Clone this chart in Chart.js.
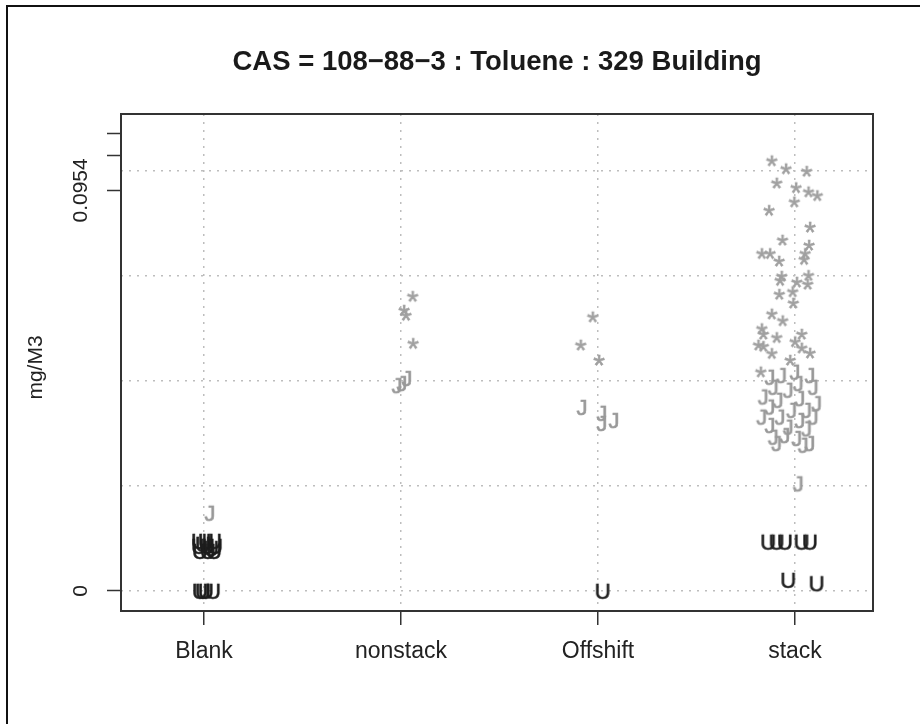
<!DOCTYPE html>
<html><head><meta charset="utf-8">
<script src="https://cdn.jsdelivr.net/npm/chart.js@4.4.0/dist/chart.umd.min.js"></script>
<style>html,body{margin:0;padding:0;background:#fff}canvas{display:block}</style>
</head><body>
<canvas id="c" width="920" height="724"></canvas>
<script>
const chartTitle = 'CAS = 108\u221288\u22123 : Toluene : 329 Building';
const yAxisTitle = 'mg/M3';
const categories = ['Blank', 'nonstack', 'Offshift', 'stack'];
const categoryPositions = [1, 2, 3, 4];
const yTickValues = [0, 0.0954, 0.1038, 0.109];
const yTickLabels = ['0', '0.0954', '', ''];
const yGridValues = [0, 0.025, 0.05, 0.075, 0.1];

// '*' markers (grey)
const starX = [2.059, 2.015, 2.025, 2.061,
  2.973, 2.912, 3.005,
  3.882, 3.954, 4.059, 3.907, 4.005, 4.068, 4.113, 3.996, 3.868, 4.076,
  3.936, 4.071, 3.831, 3.873, 4.051, 4.046, 3.919, 4.068, 3.932, 3.924,
  4.009, 4.064, 3.920, 3.988, 3.991, 3.882, 3.937, 3.831, 3.839, 3.907,
  4.034, 3.814, 3.839, 3.882, 4.000, 4.076, 3.975, 3.826, 4.034];
const starY = [0.0702, 0.0669, 0.0657, 0.0590,
  0.0653, 0.0586, 0.0550,
  0.1025, 0.1006, 0.1000, 0.0972, 0.0961, 0.0951, 0.0942, 0.0927, 0.0907, 0.0867,
  0.0836, 0.0824, 0.0804, 0.0804, 0.0804, 0.0790, 0.0786, 0.0752, 0.0750, 0.0740,
  0.0736, 0.0731, 0.0707, 0.0713, 0.0686, 0.0660, 0.0644, 0.0625, 0.0612, 0.0604,
  0.0612, 0.0586, 0.0583, 0.0566, 0.0594, 0.0567, 0.0550, 0.0522, 0.0579];

// 'J' markers (grey)
const jX = [1.030,
  1.980, 2.005, 2.030,
  2.919, 3.020, 3.020, 3.081,
  3.873, 3.932, 4.000, 4.076, 4.017, 3.890, 3.966, 4.093, 3.839, 3.915,
  4.025, 4.110, 3.873, 3.983, 4.059, 3.831, 3.924, 4.025, 4.093, 3.873,
  3.966, 4.059, 3.890, 3.949, 4.009, 4.076, 4.042, 3.907, 4.017];
const jY = [0.0186,
  0.0490, 0.0495, 0.0507,
  0.0438, 0.0424, 0.0400, 0.0407,
  0.0510, 0.0514, 0.0522, 0.0514, 0.0495, 0.0486, 0.0479, 0.0486, 0.0463, 0.0455,
  0.0459, 0.0447, 0.0439, 0.0431, 0.0431, 0.0415, 0.0415, 0.0407, 0.0415, 0.0395,
  0.0391, 0.0387, 0.0367, 0.0371, 0.0364, 0.0352, 0.0348, 0.0352, 0.0256];

// 'U' markers (black)
const uX = [0.975, 1.010, 1.051, 0.975, 1.015, 1.056, 0.980, 1.020, 1.051, 0.995, 1.036,
  0.980, 1.010, 1.046, 0.995,
  3.024,
  3.864, 3.907, 3.949, 4.034, 4.076, 3.966, 4.110];
const uY = [0.0119, 0.0119, 0.0119, 0.0107, 0.0107, 0.0107, 0.0095, 0.0095, 0.0095, 0.0112, 0.0102,
  0, 0, 0, 0,
  0,
  0.0117, 0.0117, 0.0117, 0.0117, 0.0117, 0.0026, 0.0018];

const FONT = '"Liberation Sans", Arial, Helvetica, sans-serif';

function glyph(ch, size, color) {
  const c = document.createElement('canvas');
  c.width = 36; c.height = 36;
  const g = c.getContext('2d');
  g.font = size + 'px ' + FONT;
  g.fillStyle = color;
  g.strokeStyle = color;
  g.lineWidth = 0.6;
  g.textAlign = 'center';
  g.textBaseline = 'alphabetic';
  const m = g.measureText(ch);
  const y = 18 + (m.actualBoundingBoxAscent - m.actualBoundingBoxDescent) / 2;
  g.fillText(ch, 18, y);
  g.strokeText(ch, 18, y);
  return c;
}
const starImg = glyph('*', 30, '#a0a0a0');
const jImg = glyph('J', 22, '#999999');
const uImg = glyph('U', 22, '#1e1e1e');

const pts = (xs, ys) => xs.map((x, i) => ({x: x, y: ys[i]}));

const framePlugin = {
  id: 'frame',
  beforeDraw(chart) {
    const ctx = chart.ctx;
    ctx.save();
    ctx.fillStyle = '#fff';
    ctx.fillRect(0, 0, chart.width, chart.height);
    ctx.strokeStyle = '#111';
    ctx.lineWidth = 2;
    ctx.beginPath();
    ctx.moveTo(7, chart.height);
    ctx.lineTo(7, 6);
    ctx.lineTo(chart.width, 6);
    ctx.stroke();
    ctx.restore();
  },
  beforeDatasetsDraw(chart) {
    const a = chart.chartArea, ctx = chart.ctx;
    ctx.save();
    ctx.strokeStyle = '#333';
    ctx.lineWidth = 2;
    ctx.strokeRect(a.left, a.top, a.right - a.left, a.bottom - a.top);
    ctx.restore();
  },
  afterDraw(chart) {
    const ctx = chart.ctx, ys = chart.scales.y, a = chart.chartArea;
    ctx.save();
    ctx.fillStyle = '#222';
    ctx.font = '21px ' + FONT;
    ctx.textAlign = 'center';
    ctx.textBaseline = 'middle';
    yTickValues.forEach((v, i) => {
      if (!yTickLabels[i]) return;
      ctx.save();
      ctx.translate(81, ys.getPixelForValue(v));
      ctx.rotate(-Math.PI / 2);
      ctx.fillText(yTickLabels[i], 0, 0);
      ctx.restore();
    });
    ctx.save();
    ctx.translate(36, (a.top + a.bottom) / 2 + 5);
    ctx.rotate(-Math.PI / 2);
    ctx.fillText(yAxisTitle, 0, 0);
    ctx.restore();
    ctx.restore();
  }
};

new Chart(document.getElementById('c'), {
  type: 'scatter',
  data: {
    datasets: [
      {label: 'J', data: pts(jX, jY), pointStyle: jImg, pointRadius: 6},
      {label: '*', data: pts(starX, starY), pointStyle: starImg, pointRadius: 6},
      {label: 'U', data: pts(uX, uY), pointStyle: uImg, pointRadius: 6}
    ]
  },
  options: {
    responsive: false,
    animation: false,
    events: [],
    layout: {padding: {left: 0, right: 47, top: 0, bottom: 0}},
    plugins: {
      legend: {display: false},
      tooltip: {enabled: false},
      title: {
        display: true, text: chartTitle, fullSize: false,
        color: '#1a1a1a',
        font: {family: FONT, size: 27.5, weight: 'bold', lineHeight: 1.2},
        padding: {top: 45.5, bottom: 35.5}
      }
    },
    scales: {
      x: {
        type: 'linear', position: 'bottom', min: 0.5787, max: 4.396,
        afterBuildTicks: s => { s.ticks = categoryPositions.map(v => ({value: v})); },
        afterFit: s => { s.height = 113; },
        ticks: {
          autoSkip: false, maxRotation: 0, minRotation: 0, padding: 13,
          color: '#222', font: {family: FONT, size: 23},
          callback: v => categories[Math.round(v) - 1] || ''
        },
        grid: {
          display: true, drawOnChartArea: true, drawTicks: true, tickLength: 14,
          color: '#bdbdbd', lineWidth: 1.5,
          tickColor: '#333', tickWidth: 1.5, tickBorderDash: []
        },
        border: {display: false, dash: [2, 6]}
      },
      y: {
        type: 'linear', position: 'left', min: -0.0048, max: 0.1136,
        afterBuildTicks: s => { s.ticks = yTickValues.map(v => ({value: v})); },
        afterFit: s => { s.width = 121; },
        ticks: {display: false},
        grid: {
          display: true, drawOnChartArea: false, drawTicks: true, tickLength: 14,
          color: '#333', tickColor: '#333', tickWidth: 1.5
        },
        border: {display: false}
      },
      yg: {
        type: 'linear', position: 'right', min: -0.0048, max: 0.1136,
        afterBuildTicks: s => { s.ticks = yGridValues.map(v => ({value: v})); },
        afterFit: s => { s.width = 0; },
        ticks: {display: false},
        grid: {display: true, drawOnChartArea: true, drawTicks: false, color: '#bdbdbd', lineWidth: 1.5},
        border: {display: false, dash: [2, 6]}
      }
    }
  },
  plugins: [framePlugin]
});
</script>
</body></html>
